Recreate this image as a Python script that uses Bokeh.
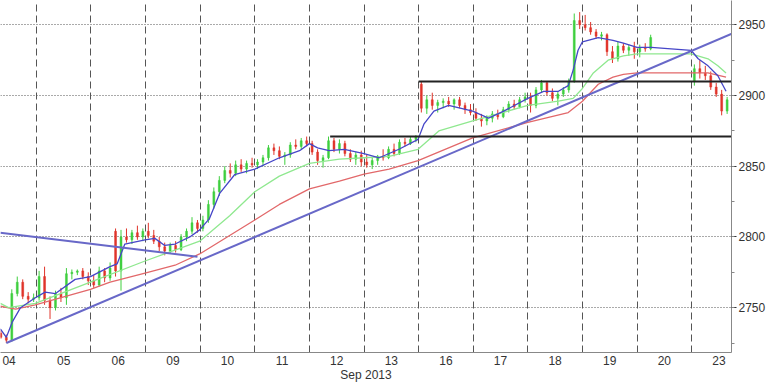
from bokeh.plotting import figure
from bokeh.models import Range1d, FixedTicker, SingleIntervalTicker, ColumnDataSource
from bokeh.embed import file_html
from bokeh.resources import INLINE

# ---- data -------------------------------------------------------------
day_labels = ["04", "05", "06", "09", "10", "11", "12", "13", "16", "17", "18", "19", "20", "23"]
slot_start = [3, 0, 0, 0, 0, 0, 0, 0, 0, 0, 0, 0, 0, 0]
slot_count = [7, 10, 10, 10, 10, 10, 10, 10, 10, 10, 10, 10, 3, 7]
slots_per_day = 10

opens = [
    2732, 2729, 2727, 2760, 2768, 2758, 2756,
    2757, 2772, 2755, 2750, 2760, 2757, 2774, 2775, 2776, 2772,
    2769, 2766, 2776, 2771, 2804, 2776, 2800, 2798, 2803, 2800,
    2804, 2801, 2797, 2793, 2790, 2794, 2791, 2800, 2804, 2810,
    2806, 2812, 2823, 2832, 2840, 2847, 2845, 2851, 2848, 2852,
    2851, 2853, 2856, 2863, 2861, 2857, 2858, 2865, 2864, 2868,
    2866, 2860, 2854, 2856, 2868, 2862, 2866, 2859, 2855, 2858,
    2853, 2851, 2854, 2857, 2856, 2862, 2859, 2867, 2866, 2869,
    2908, 2891, 2897, 2893, 2895, 2896, 2894, 2897, 2893, 2890,
    2888, 2884, 2882, 2884, 2887, 2885, 2890, 2894, 2892, 2897,
    2899, 2893, 2904, 2909, 2902, 2898, 2901, 2904, 2910, 2953,
    2950, 2948, 2945, 2942, 2943, 2931, 2926, 2935, 2932, 2934,
    2931, 2934, 2933,
    2910, 2919, 2916, 2914, 2906, 2901, 2889,
]
highs = [
    2734, 2731, 2763, 2772, 2770, 2761, 2760,
    2776, 2779, 2758, 2762, 2764, 2778, 2777, 2777, 2778, 2775,
    2773, 2779, 2778, 2782, 2806, 2805, 2806, 2805, 2808, 2806,
    2810, 2805, 2800, 2796, 2796, 2797, 2802, 2806, 2814, 2812,
    2815, 2826, 2835, 2843, 2850, 2852, 2854, 2855, 2854, 2856,
    2855, 2858, 2865, 2866, 2864, 2860, 2867, 2869, 2870, 2871,
    2868, 2862, 2858, 2871, 2870, 2869, 2868, 2862, 2860, 2861,
    2858, 2856, 2858, 2862, 2864, 2866, 2869, 2870, 2871, 2872,
    2910, 2900, 2902, 2897, 2898, 2899, 2898, 2899, 2895, 2894,
    2891, 2887, 2886, 2889, 2890, 2892, 2896, 2897, 2899, 2902,
    2902, 2906, 2911, 2910, 2905, 2903, 2906, 2912, 2958, 2959,
    2957, 2952, 2947, 2945, 2944, 2935, 2938, 2937, 2936, 2938,
    2936, 2937, 2943,
    2922, 2925, 2921, 2917, 2909, 2904, 2899,
]
lows = [
    2728, 2725, 2726, 2758, 2756, 2753, 2754,
    2755, 2752, 2742, 2748, 2754, 2752, 2770, 2773, 2770, 2766,
    2764, 2765, 2768, 2769, 2772, 2762, 2796, 2795, 2798, 2797,
    2799, 2795, 2790, 2787, 2788, 2789, 2790, 2797, 2802, 2803,
    2804, 2810, 2820, 2829, 2838, 2842, 2843, 2846, 2845, 2849,
    2848, 2850, 2854, 2858, 2855, 2851, 2856, 2862, 2862, 2864,
    2858, 2851, 2849, 2855, 2860, 2859, 2857, 2853, 2851, 2850,
    2849, 2848, 2851, 2854, 2855, 2857, 2858, 2864, 2865, 2867,
    2888, 2887, 2890, 2888, 2891, 2892, 2890, 2891, 2887, 2886,
    2882, 2878, 2879, 2881, 2883, 2884, 2888, 2890, 2891, 2895,
    2888, 2891, 2902, 2900, 2896, 2893, 2899, 2902, 2909, 2947,
    2946, 2943, 2940, 2939, 2928, 2923, 2924, 2930, 2928, 2926,
    2927, 2931, 2932,
    2907, 2912, 2911, 2904, 2899, 2886, 2887,
]
closes = [
    2729, 2727, 2760, 2768, 2758, 2756, 2757,
    2772, 2755, 2750, 2760, 2757, 2774, 2775, 2776, 2772, 2769,
    2766, 2776, 2771, 2778, 2776, 2800, 2798, 2803, 2800, 2804,
    2801, 2797, 2793, 2790, 2794, 2791, 2800, 2804, 2810, 2806,
    2812, 2823, 2832, 2840, 2847, 2845, 2851, 2848, 2852, 2851,
    2853, 2856, 2863, 2861, 2857, 2858, 2865, 2864, 2868, 2866,
    2860, 2854, 2856, 2868, 2862, 2866, 2859, 2855, 2858, 2853,
    2851, 2854, 2857, 2856, 2862, 2859, 2867, 2866, 2869, 2871,
    2891, 2897, 2893, 2895, 2896, 2894, 2897, 2893, 2890, 2888,
    2884, 2882, 2884, 2887, 2885, 2890, 2894, 2892, 2897, 2899,
    2893, 2904, 2909, 2902, 2898, 2901, 2904, 2910, 2953, 2950,
    2948, 2945, 2942, 2943, 2931, 2926, 2935, 2932, 2934, 2931,
    2934, 2933, 2941,
    2919, 2916, 2914, 2906, 2901, 2889, 2897,
]

# moving averages (x in trading-day units)
fast_x = [0.34, 0.45, 0.56, 0.71, 0.98, 1.16, 1.35, 1.71, 1.99, 2.35, 2.48, 2.62, 2.99, 3.17,
          3.35, 3.54, 3.81, 3.99, 4.17, 4.36, 4.63, 5.00, 5.45, 5.82, 6.00, 6.15, 6.36, 6.64,
          7.00, 7.28, 7.64, 7.99, 8.10, 8.28, 8.55, 8.99, 9.28, 9.56, 10.00, 10.29, 10.56,
          10.74, 10.83, 10.92, 11.00, 11.29, 11.56, 11.75, 12.00, 12.26, 12.99, 13.12, 13.30,
          13.48, 13.63]
fast_y = [2735, 2729, 2740, 2750, 2757, 2761, 2760, 2770, 2772, 2779, 2781, 2795, 2798, 2799,
          2794, 2795, 2800, 2805, 2813, 2831, 2844, 2848, 2856, 2861, 2866, 2863, 2861, 2862,
          2859, 2856, 2862, 2869, 2880, 2889, 2893, 2889, 2884, 2889, 2898, 2903, 2903,
          2907, 2918, 2932, 2938, 2941, 2939, 2937, 2934, 2934, 2932, 2926, 2921,
          2914, 2903]
mid_x = [0.34, 0.49, 0.98, 1.99, 2.99, 3.99, 4.54, 5.00, 5.45, 6.00, 6.55, 7.00, 7.46, 7.99,
         8.37, 8.99, 10.00, 10.56, 10.83, 11.00, 11.20, 11.47, 11.75, 12.00, 12.99, 13.30,
         13.48, 13.63]
mid_y = [2753, 2750, 2753, 2768, 2783, 2797, 2815, 2832, 2843, 2852, 2855, 2856, 2857, 2862,
         2875, 2882, 2893, 2896, 2898, 2905, 2916, 2925, 2928, 2929.5, 2929.5, 2926,
         2921, 2916]
slow_x = [0.34, 0.62, 0.98, 1.99, 2.35, 2.99, 3.54, 3.99, 5.00, 5.45, 6.00, 6.55, 7.00, 7.46,
          7.99, 8.99, 10.00, 10.74, 11.00, 11.29, 11.56, 11.75, 12.00, 12.99, 13.30, 13.63]
slow_y = [2751, 2749, 2752, 2763, 2768, 2774.5, 2780, 2788, 2812, 2823, 2834, 2839.5, 2844.5,
          2848, 2854, 2870, 2881, 2888, 2896, 2908, 2913, 2915, 2916, 2916, 2916, 2913]

# trend lines and horizontal levels
rise_x = [0.45, 13.75]
rise_y = [2725, 2944]
fall_x = [0.34, 3.95]
fall_y = [2803, 2786]
level_lo = 2871
level_lo_x = [6.38, 14.0]
level_hi = 2910
level_hi_x = [8.0, 14.0]

# ---- build ------------------------------------------------------------
bar_x = []
for d, (s0, n) in enumerate(zip(slot_start, slot_count)):
    for s in range(s0, s0 + n):
        bar_x.append(d + (s + 0.5) / slots_per_day)

UP = "#3fcf3f"
DOWN = "#e0342a"
cols = [UP if c >= o else DOWN for o, c in zip(opens, closes)]
src = ColumnDataSource(dict(
    x=bar_x, o=opens, h=highs, l=lows, c=closes,
    top=[max(o, c) for o, c in zip(opens, closes)],
    bot=[min(o, c) for o, c in zip(opens, closes)],
    col=cols,
))

p = figure(width=768, height=384, output_backend="svg", toolbar_location=None,
           y_axis_location="right",
           x_range=Range1d(0.343, 13.73), y_range=Range1d(2718.3, 2967.2),
           min_border_left=0, min_border_top=0, min_border_right=0, min_border_bottom=0)
p.outline_line_color = None
p.background_fill_color = "white"
p.border_fill_color = "white"

# grids
p.xgrid.ticker = FixedTicker(ticks=list(range(1, len(day_labels))))
p.xgrid.grid_line_color = "#555555"
p.xgrid.grid_line_dash = "7 4"
p.xgrid.grid_line_width = 1
p.ygrid.grid_line_color = "#555555"
p.ygrid.grid_line_dash = "1 2"
p.ygrid.grid_line_width = 1

# x axis
centers = [k + 0.5 for k in range(len(day_labels))]
p.xaxis.ticker = FixedTicker(ticks=centers)
p.xaxis.major_label_overrides = {c: lbl for c, lbl in zip(centers, day_labels)}
p.xaxis.major_tick_line_color = None
p.xaxis.minor_tick_line_color = None
p.xaxis.major_tick_out = 0
p.xaxis.major_tick_in = 0
p.xaxis.axis_line_color = "#888888"
p.xaxis.axis_label = "Sep 2013"
p.xaxis.axis_label_text_font_style = "normal"
p.xaxis.axis_label_standoff = 0
p.xaxis.major_label_standoff = 3

# y axis
p.yaxis.ticker = SingleIntervalTicker(interval=50, num_minor_ticks=2)
p.yaxis.axis_line_color = "#888888"
p.yaxis.major_tick_out = 5
p.yaxis.major_tick_in = 0
p.yaxis.minor_tick_out = 3
p.yaxis.minor_tick_in = 0
p.yaxis.major_tick_line_color = "#333333"
p.yaxis.minor_tick_line_color = "#888888"
p.yaxis.major_label_standoff = 2

for ax in (p.xaxis, p.yaxis):
    ax.major_label_text_font = "Liberation Sans"
    ax.major_label_text_font_size = "12px"
    ax.major_label_text_color = "#333333"
    ax.axis_label_text_font = "Liberation Sans"
    ax.axis_label_text_font_size = "12px"
    ax.axis_label_text_color = "#333333"

# candles
p.segment(x0="x", y0="l", x1="x", y1="h", color="col", line_width=1, source=src)
p.vbar(x="x", width=0.035, top="top", bottom="bot", fill_color="col", line_color="col",
       line_width=0.5, source=src)

# moving averages
p.line(slow_x, slow_y, line_color="#e2686a", line_width=1.3)
p.line(mid_x, mid_y, line_color="#8fe88f", line_width=1.3)
p.line(fast_x, fast_y, line_color="#4646c8", line_width=1.3)

# trend lines
p.line(rise_x, rise_y, line_color="#6868c8", line_width=2)
p.line(fall_x, fall_y, line_color="#6868c8", line_width=2)

# horizontal levels
p.line(level_lo_x, [level_lo, level_lo], line_color="#222222", line_width=2)
p.line(level_hi_x, [level_hi, level_hi], line_color="#222222", line_width=2)

open("out.html", "w").write(file_html(p, INLINE))
